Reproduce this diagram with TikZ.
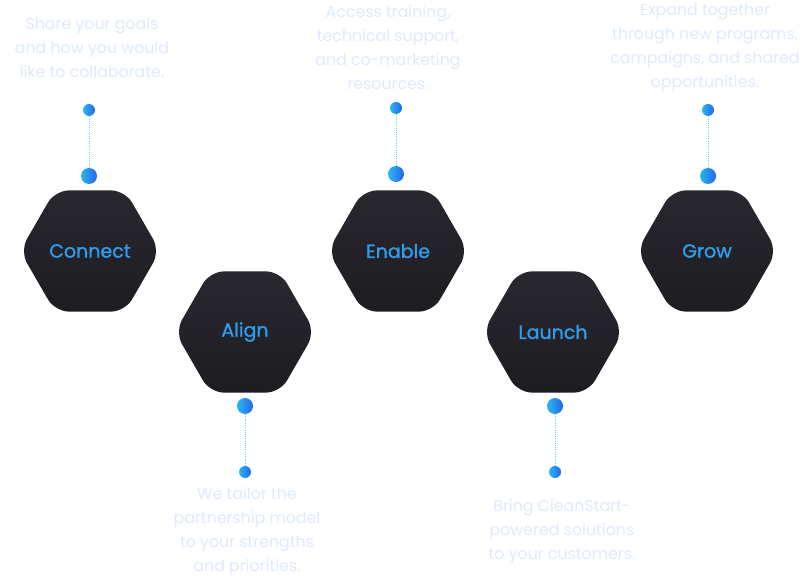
\documentclass[tikz,border=0pt]{standalone}
\usepackage{fontspec}
\setmainfont{Poppins}
\newfontfamily\labelfont{Poppins}[FakeBold=1.2]
\usetikzlibrary{shapes.geometric}
\definecolor{hexdark}{HTML}{1D1C21}
\definecolor{hextop}{HTML}{2A282F}
\definecolor{labelblue}{HTML}{2E9DEC}
\definecolor{dotcyan}{HTML}{2BB7F0}
\definecolor{dotblue}{HTML}{2466EA}
\definecolor{notepale}{HTML}{E0EAFC}
\definecolor{linecyan}{HTML}{6FC6EE}

\begin{document}
\begin{tikzpicture}[x=1pt, y=-1pt,
  hexstep/.style={regular polygon, regular polygon sides=6, minimum size=140pt,
    inner sep=0pt, rounded corners=14pt, top color=hextop, bottom color=hexdark,
    text=labelblue, font=\labelfont\fontsize{19}{19}\selectfont},
  bigdot/.style={circle, minimum size=16pt, inner sep=0pt, left color=dotcyan, right color=dotblue},
  smalldot/.style={circle, minimum size=12pt, inner sep=0pt, left color=dotcyan, right color=dotblue},
  note/.style={align=center, text=notepale, font=\fontsize{15.8}{24}\selectfont},
  dotline/.style={linecyan, line width=0.8pt, dash pattern=on 0.8pt off 1.4pt}]
\fill[white] (0,0) rectangle (801,580);
\useasboundingbox (0,0) rectangle (801,580);

% steps
\node[hexstep] (connect) at (90,251) {Connect};
\node[hexstep] (align) at (245,332) {Align};
\node[hexstep] (enable) at (398,251) {Enable};
\node[hexstep] (launch) at (553,332) {Launch};
\node[hexstep] (grow) at (707,251) {Grow};

% dots above / below
\node[bigdot] (connecttop) at (89,176) {};
\node[smalldot] (connectend) at (89,110) {};
\node[bigdot] (enabletop) at (396,174) {};
\node[smalldot] (enableend) at (396,108) {};
\node[bigdot] (growtop) at (708,176) {};
\node[smalldot] (growend) at (708,110) {};
\node[bigdot] (alignbot) at (245,406) {};
\node[smalldot] (alignend) at (245,472) {};
\node[bigdot] (launchbot) at (555,406) {};
\node[smalldot] (launchend) at (555,472) {};

\draw[dotline] (connecttop) -- (connectend);
\draw[dotline] (enabletop) -- (enableend);
\draw[dotline] (growtop) -- (growend);
\draw[dotline] (alignbot) -- (alignend);
\draw[dotline] (launchbot) -- (launchend);

% notes
\node[note] (connectnote) at (92,48) {Share your goals\\and how you would\\like to collaborate.};
\node[note] (enablenote) at (388,48) {Access training,\\technical support,\\and co-marketing\\resources.};
\node[note] (grownote) at (705,48) {Expand together\\through new programs,\\campaigns, and shared\\opportunities.};
\node[note] (alignnote) at (247,532) {We tailor the\\partnership model\\to your strengths\\and priorities.};
\node[note] (launchnote) at (562,532) {Bring CleanStart-\\powered solutions\\to your customers.};
\end{tikzpicture}
\end{document}
